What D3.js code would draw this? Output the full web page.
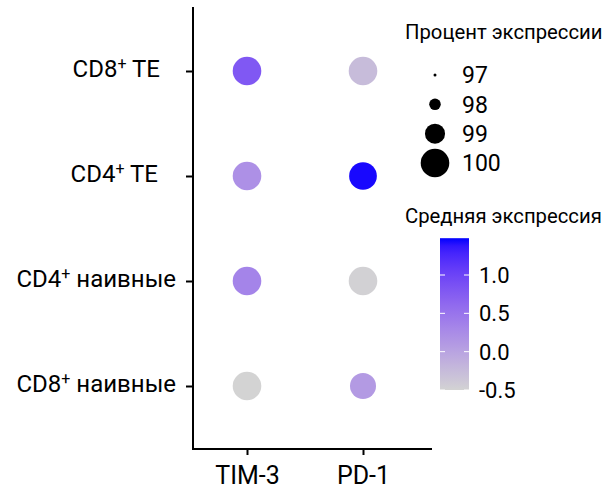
<!DOCTYPE html>
<html>
<head>
<meta charset="utf-8">
<script src="https://cdn.jsdelivr.net/npm/d3@7"></script>
<style>
  html, body { margin: 0; padding: 0; background: #fff; }
  svg { display: block; font-family: Roboto, "Noto Sans", sans-serif; }
</style>
</head>
<body>
<svg id="chart" width="606" height="489"></svg>
<script>
// ---- Data ----
const cellTypes = ["CD8+ TE", "CD4+ TE", "CD4+ наивные", "CD8+ наивные"];
const markers = ["TIM-3", "PD-1"];
// percent expressing, rows follow cellTypes, columns follow markers
const pctTIM3 = [100, 100, 100, 100];
const pctPD1  = [100, 99.9, 100, 99.7];
// average (scaled) expression
const avgTIM3 = [0.80, 0.20, 0.33, -0.50];
const avgPD1  = [-0.26, 1.45, -0.48, 0.10];

const sizeLegendValues = [97, 98, 99, 100];
const colorTicks = [-0.5, 0.0, 0.5, 1.0];
const colorDomain = [-0.5, 1.48];

const sizeTitle = "Процент экспрессии";
const colorTitle = "Средняя экспрессия";

// ---- Build table ----
const points = [];
cellTypes.forEach((c, i) => {
  points.push({cell: c, marker: "TIM-3", pct: pctTIM3[i], avg: avgTIM3[i]});
  points.push({cell: c, marker: "PD-1", pct: pctPD1[i], avg: avgPD1[i]});
});

const svg = d3.select("#chart");

const panel = {left: 193, right: 432, top: 7, bottom: 449};

const x = d3.scalePoint().domain(markers).range([247, 363]);
const y = d3.scalePoint().domain(cellTypes).range([71, 386]);
const r = d3.scaleLinear().domain([97, 100]).range([1.5, 14.3]);
const color = d3.scaleLinear().domain(colorDomain).range(["#d3d3d3", "#0000ff"])
  .interpolate(d3.interpolateLab);

// axes lines
svg.append("line").attr("x1", panel.left).attr("x2", panel.left)
  .attr("y1", panel.top).attr("y2", panel.bottom + 1)
  .attr("stroke", "#000").attr("stroke-width", 2);
svg.append("line").attr("x1", panel.left - 1).attr("x2", panel.right)
  .attr("y1", panel.bottom).attr("y2", panel.bottom)
  .attr("stroke", "#000").attr("stroke-width", 2);

// y axis
const yAxis = d3.axisLeft(y).tickSize(6).tickPadding(0).tickFormat(() => "");
const gy = svg.append("g").attr("transform", `translate(${panel.left - 1},0)`).call(yAxis);
gy.select(".domain").remove();
gy.selectAll(".tick line").attr("stroke", "#000").attr("stroke-width", 2);

const labelOffsets = {"CD8+ TE": 16, "CD4+ TE": 18, "CD4+ наивные": 0, "CD8+ наивные": 0};
cellTypes.forEach(c => {
  const parts = c.split("+");
  const t = svg.append("text")
    .attr("x", 176 - labelOffsets[c])
    .attr("y", y(c))
    .attr("dy", "0.24em")
    .attr("text-anchor", "end")
    .attr("font-size", 24)
    .attr("fill", "#000");
  t.append("tspan").text(parts[0]);
  t.append("tspan").attr("font-size", 16).attr("dy", "-0.5em").text("+");
  t.append("tspan").attr("dy", "0.33em").text(parts[1]);
});

// x axis
const xAxis = d3.axisBottom(x).tickSize(6).tickPadding(11);
const gx = svg.append("g").attr("transform", `translate(0,${panel.bottom})`).call(xAxis);
gx.select(".domain").remove();
gx.selectAll(".tick line").attr("stroke", "#000").attr("stroke-width", 2);
gx.selectAll(".tick text").attr("font-size", 25).attr("fill", "#000")
  .attr("font-family", "Roboto, sans-serif").attr("dy", "0.71em");

// points
svg.append("g").selectAll("circle").data(points).join("circle")
  .attr("cx", d => x(d.marker))
  .attr("cy", d => y(d.cell))
  .attr("r", d => r(d.pct))
  .attr("fill", d => color(d.avg));

// size legend
svg.append("text").attr("x", 405).attr("y", 39).attr("font-size", 20.3)
  .attr("fill", "#000").text(sizeTitle);
const ly = d3.scalePoint().domain(sizeLegendValues).range([75, 163]);
const sl = svg.append("g");
sl.selectAll("circle").data(sizeLegendValues).join("circle")
  .attr("cx", 435).attr("cy", d => ly(d)).attr("r", d => r(d)).attr("fill", "#000");
sl.selectAll("text").data(sizeLegendValues).join("text")
  .attr("x", 462).attr("y", d => ly(d)).attr("dy", "0.36em")
  .attr("font-size", 23).attr("fill", "#000").text(d => d);

// color legend
svg.append("text").attr("x", 405).attr("y", 223).attr("font-size", 20.3)
  .attr("fill", "#000").text(colorTitle);
const cy = d3.scaleLinear().domain([-0.5, 1.0]).range([390, 275]);
const barTop = cy(colorDomain[1]), barBottom = cy(colorDomain[0]);
const defs = svg.append("defs");
const grad = defs.append("linearGradient").attr("id", "cbar")
  .attr("x1", 0).attr("x2", 0).attr("y1", 1).attr("y2", 0);
d3.range(0, 1.0001, 0.05).forEach(t => {
  grad.append("stop").attr("offset", t)
    .attr("stop-color", color(colorDomain[0] + t * (colorDomain[1] - colorDomain[0])));
});
svg.append("rect").attr("x", 440).attr("y", barTop).attr("width", 29)
  .attr("height", barBottom - barTop).attr("fill", "url(#cbar)");
const ct = svg.append("g");
colorTicks.forEach(v => {
  ct.append("line").attr("x1", 440).attr("x2", 445).attr("y1", cy(v)).attr("y2", cy(v))
    .attr("stroke", "#fff").attr("stroke-width", 1);
  ct.append("line").attr("x1", 464).attr("x2", 469).attr("y1", cy(v)).attr("y2", cy(v))
    .attr("stroke", "#fff").attr("stroke-width", 1);
  ct.append("text").attr("x", 479).attr("y", cy(v)).attr("dy", "0.36em")
    .attr("font-size", 22).attr("fill", "#000").text(d3.format(".1f")(v).replace("\u2212", "-"));
});
</script>
</body>
</html>
